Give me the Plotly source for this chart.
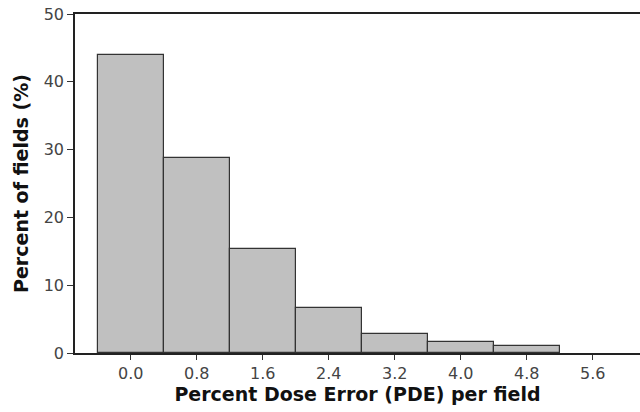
import plotly.graph_objects as go

bin_centers = [0.0, 0.8, 1.6, 2.4, 3.2, 4.0, 4.8]
percent_fields = [44.0, 28.7, 15.4, 6.6, 2.85, 1.55, 1.05]
tick_vals = [0.0, 0.8, 1.6, 2.4, 3.2, 4.0, 4.8, 5.6]
tick_text = ["0.0", "0.8", "1.6", "2.4", "3.2", "4.0", "4.8", "5.6"]

fig = go.Figure(go.Bar(
    x=bin_centers, y=percent_fields, width=0.8,
    marker=dict(color="#c0c0c0", line=dict(color="#333333", width=1.2)),
))

font = "DejaVu Sans, Verdana, sans-serif"
fig.update_layout(
    width=640, height=412,
    margin=dict(l=75, r=0, t=14, b=59),
    plot_bgcolor="white", paper_bgcolor="white",
    showlegend=False, bargap=0,
    font=dict(family=font, color="#222222"),
)
fig.update_xaxes(
    range=[-0.675, 6.172], tickvals=tick_vals, ticktext=tick_text,
    ticks="outside", ticklen=5, tickcolor="#333333",
    showline=True, linecolor="#222222", linewidth=1.5, mirror=True,
    showgrid=False, zeroline=False,
    tickfont=dict(size=16, family=font, color="#444444"),
    title=dict(text="<b>Percent Dose Error (PDE) per field</b>",
               font=dict(size=19, family=font, color="#111111"), standoff=4),
)
fig.update_yaxes(
    range=[0, 50], tickvals=[0, 10, 20, 30, 40, 50],
    ticks="outside", ticklen=6, tickcolor="#333333",
    showline=True, linecolor="#222222", linewidth=1.5,
    showgrid=False, zeroline=False,
    tickfont=dict(size=16, family=font, color="#444444"),
    title=dict(text="<b>Percent of fields (%)</b>",
               font=dict(size=19, family=font, color="#111111"), standoff=10),
)

fig.write_html("out.html")
